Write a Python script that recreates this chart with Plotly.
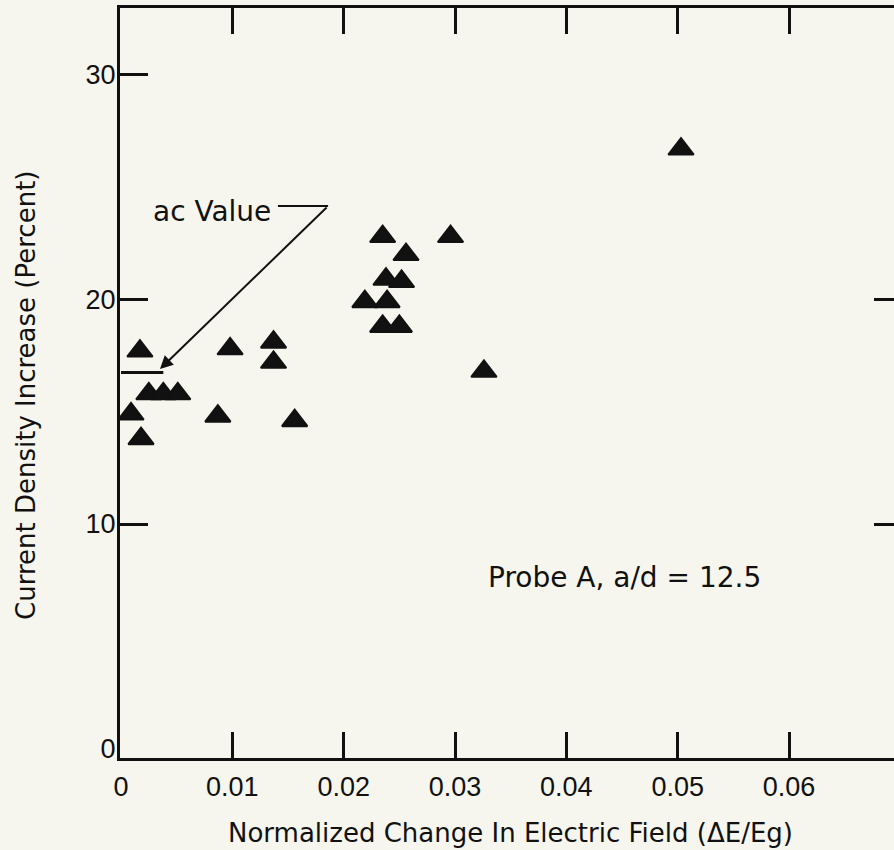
import plotly.graph_objects as go

# ---- data ----
field_change = [0.0017, 0.0009, 0.0018, 0.0025, 0.0038, 0.0051, 0.0087, 0.0098,
                0.0137, 0.0137, 0.0156, 0.0235, 0.0256, 0.0238, 0.0252, 0.0219,
                0.0239, 0.0235, 0.0250, 0.0296, 0.0326, 0.0503]
current_increase = [17.7, 14.9, 13.8, 15.8, 15.8, 15.8, 14.8, 17.8,
                    18.1, 17.2, 14.6, 22.8, 22.0, 20.9, 20.8, 19.9,
                    19.9, 18.8, 18.8, 22.8, 16.8, 26.7]

x_tickvals = [0, 0.01, 0.02, 0.03, 0.04, 0.05, 0.06]
x_ticktext = ["0", "0.01", "0.02", "0.03", "0.04", "0.05", "0.06"]
y_tickvals = [0, 10, 20, 30]
y_ticktext = ["0", "10", "20", "30"]

ac_value = 16.75
ac_line_end = 0.0038
ac_label_pos = (0.0082, 23.9)
ac_leader = (0.0141, 0.0186, 24.16)      # horizontal leader x0, x1, y
ac_arrow_tip = (0.0035, 16.9)

probe_label = "Probe A, a/d = 12.5"
probe_pos = (0.0452, 7.6)

x_title = "Normalized Change In Electric Field (ΔE/Eg)"
y_title = "Current Density Increase (Percent)"

X_RANGE = [-0.00009, 0.06943]
Y_RANGE = [-0.42, 32.98]

BG = "#f6f6ee"
INK = "#111111"
TEXT_FONT = "DejaVu Sans"
TICK_FONT = "Liberation Sans"

fig = go.Figure()
fig.add_trace(go.Scatter(
    x=field_change, y=current_increase, mode="markers",
    marker=dict(symbol="triangle-up", size=22, color=INK,
                line=dict(color=INK, width=2)),
    showlegend=False, hoverinfo="x+y",
))

# ac value marker line and leader
fig.add_shape(type="line", xref="x", yref="y", x0=0, x1=ac_line_end,
              y0=ac_value, y1=ac_value, line=dict(color=INK, width=3))
fig.add_shape(type="line", xref="x", yref="y", x0=ac_leader[0], x1=ac_leader[1],
              y0=ac_leader[2], y1=ac_leader[2], line=dict(color=INK, width=2))
fig.add_annotation(x=ac_arrow_tip[0], y=ac_arrow_tip[1], xref="x", yref="y",
                   ax=ac_leader[1], ay=ac_leader[2], axref="x", ayref="y",
                   text="", showarrow=True, arrowhead=2, arrowsize=1.3,
                   arrowwidth=2, arrowcolor=INK)
fig.add_annotation(x=ac_label_pos[0], y=ac_label_pos[1], xref="x", yref="y",
                   text="ac Value", showarrow=False,
                   font=dict(family=TEXT_FONT, size=28, color=INK))
fig.add_annotation(x=probe_pos[0], y=probe_pos[1], xref="x", yref="y",
                   text=probe_label, showarrow=False,
                   font=dict(family=TEXT_FONT, size=28, color=INK))

# axis titles
fig.add_annotation(x=0, y=0.4827, xref="paper", yref="paper", xshift=-94,
                   xanchor="center", yanchor="middle",
                   text=y_title, textangle=-90, showarrow=False,
                   font=dict(family=TEXT_FONT, size=26, color=INK))
fig.add_annotation(x=(510 - 120) / 774, y=0, xref="paper", yref="paper",
                   xanchor="center", yanchor="middle",
                   yshift=-75, text=x_title, showarrow=False,
                   font=dict(family=TEXT_FONT, size=26, color=INK))

fig.update_layout(
    width=894, height=850,
    margin=dict(l=120, r=0, t=8, b=92),
    paper_bgcolor=BG, plot_bgcolor=BG,
    showlegend=False,
    xaxis=dict(range=X_RANGE, tickvals=x_tickvals, ticktext=x_ticktext,
               ticks="inside", ticklen=26, tickwidth=3, tickcolor=INK,
               showline=True, linewidth=3, linecolor=INK, mirror="ticks",
               showgrid=False, zeroline=False, ticklabelstandoff=3,
               tickfont=dict(family=TICK_FONT, size=27, color=INK)),
    yaxis=dict(range=Y_RANGE, tickvals=y_tickvals, ticktext=y_ticktext,
               ticks="", showline=True, linewidth=3, linecolor=INK,
               showgrid=False, zeroline=False, ticklabelstandoff=-4,
               tickfont=dict(family=TICK_FONT, size=27, color=INK)),
    yaxis2=dict(range=Y_RANGE, overlaying="y", side="left", anchor="x",
                tickvals=y_tickvals[1:], ticks="inside", ticklen=28,
                tickwidth=3, tickcolor=INK, showticklabels=False,
                showline=False, showgrid=False, zeroline=False),
    yaxis3=dict(range=Y_RANGE, overlaying="y", side="right", anchor="x",
                tickvals=y_tickvals[1:3], ticks="inside", ticklen=20,
                tickwidth=3, tickcolor=INK, showticklabels=False,
                showline=False, showgrid=False, zeroline=False),
)

# invisible traces so the overlay axes are drawn
fig.add_trace(go.Scatter(x=[None], y=[None], yaxis="y2", showlegend=False))
fig.add_trace(go.Scatter(x=[None], y=[None], yaxis="y3", showlegend=False))

fig.write_html(
    "out.html",
    config={"displayModeBar": False},
    post_script="document.body.style.margin='0';document.body.style.overflow='hidden';",
)
